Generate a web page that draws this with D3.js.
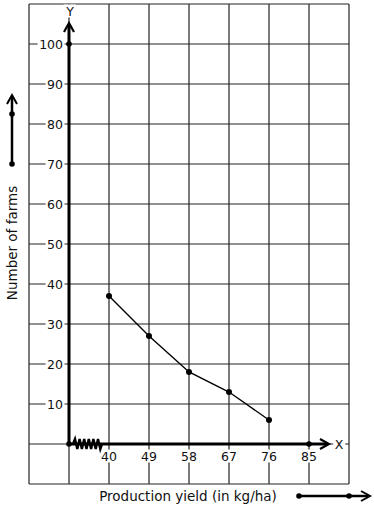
<!DOCTYPE html>
<html>
<head>
<meta charset="utf-8">
<script src="https://cdn.jsdelivr.net/npm/d3@7"></script>
<style>
  body { margin: 0; background: #fff; }
  text { font-family: "DejaVu Sans", sans-serif; font-size: 12.5px; fill: #111; }
  text.title { font-size: 13.5px; }
</style>
</head>
<body>
<svg id="chart" width="374" height="510"></svg>
<script>
var yields = [40, 49, 58, 67, 76];
var farms = [37, 27, 18, 13, 6];
var xTicks = [40, 49, 58, 67, 76, 85];
var yTicks = [10, 20, 30, 40, 50, 60, 70, 80, 90, 100];
var xGrid = [22, 31, 40, 49, 58, 67, 76, 85, 94];
var yGrid = [-10, 0, 10, 20, 30, 40, 50, 60, 70, 80, 90, 100, 110];

var svg = d3.select('#chart');

var x = d3.scaleLinear().domain([40, 85]).range([109, 309]);
var y = d3.scaleLinear().domain([0, 100]).range([444, 44]);

var x0 = x(31), y0 = y(0);
var ink = '#222';

// grid
svg.append('g').selectAll('line')
    .data(xGrid)
    .enter()
    .append('line')
    .attr('x1', function (d) { return x(d) })
    .attr('x2', function (d) { return x(d) })
    .attr('y1', y(110))
    .attr('y2', y(-10))
    .attr('stroke', ink)
    .attr('stroke-width', 1.2);

svg.append('g').selectAll('line')
    .data(yGrid)
    .enter()
    .append('line')
    .attr('x1', x(22))
    .attr('x2', x(94))
    .attr('y1', function (d) { return y(d) })
    .attr('y2', function (d) { return y(d) })
    .attr('stroke', ink)
    .attr('stroke-width', 1.2);

// labels with white boxes behind
function boxed(g) {
    g.each(function () {
        var b = this.getBBox();
        d3.select(this.parentNode).insert('rect', function () { return this.firstChild })
            .attr('x', b.x - 1.5).attr('y', b.y + 1)
            .attr('width', b.width + 3).attr('height', b.height - 2)
            .attr('fill', '#fff');
    });
}

var yl = svg.append('g').selectAll('g')
    .data(yTicks)
    .enter()
    .append('g');
yl.append('text')
    .attr('x', 63)
    .attr('y', function (d) { return y(d) })
    .attr('dy', '0.36em')
    .attr('text-anchor', 'end')
    .text(function (d) { return d });
yl.select('text').call(boxed);

var xl = svg.append('g').selectAll('g')
    .data(xTicks)
    .enter()
    .append('g');
xl.append('text')
    .attr('x', function (d) { return x(d) })
    .attr('y', y0 + 12)
    .attr('dy', '0.36em')
    .attr('text-anchor', 'middle')
    .text(function (d) { return d });
xl.select('text').call(boxed);

var axl = svg.append('g');
axl.append('text').attr('x', 339).attr('y', y0).attr('dy', '0.36em')
    .attr('text-anchor', 'middle').text('X');
axl.append('text').attr('x', x0 + 1).attr('y', 11).attr('dy', '0.36em')
    .attr('text-anchor', 'middle').text('Y');
axl.selectAll('text').call(boxed);

// axes
function arrowUp(px, py) {
    return 'M' + (px - 5) + ',' + (py + 9) + 'L' + px + ',' + py + 'L' + (px + 5) + ',' + (py + 9);
}
function arrowRight(px, py) {
    return 'M' + (px - 9) + ',' + (py - 5) + 'L' + px + ',' + py + 'L' + (px - 9) + ',' + (py + 5);
}

svg.append('line').attr('x1', x0).attr('x2', x0).attr('y1', y0).attr('y2', 24)
    .attr('stroke', '#000').attr('stroke-width', 3);
svg.append('path').attr('d', arrowUp(x0, 23)).attr('fill', 'none')
    .attr('stroke', '#000').attr('stroke-width', 2.2);

svg.append('line').attr('x1', x0).attr('x2', 327).attr('y1', y0).attr('y2', y0)
    .attr('stroke', '#000').attr('stroke-width', 3);
svg.append('path').attr('d', arrowRight(329, y0)).attr('fill', 'none')
    .attr('stroke', '#000').attr('stroke-width', 2.2);

// axis break zigzag
var zz = 'M' + (x0 + 4) + ',' + y0;
for (var i = 0; i < 12; i++) {
    zz += 'L' + (x0 + 6 + i * 2.3) + ',' + (y0 + (i % 2 ? 5 : -5));
}
zz += 'L' + (x0 + 33) + ',' + y0;
svg.append('path').attr('d', zz).attr('fill', 'none')
    .attr('stroke', '#000').attr('stroke-width', 2.4);

svg.append('g').selectAll('circle')
    .data([[x0, y0], [x0, y(100)], [x(85), y0]])
    .enter()
    .append('circle')
    .attr('cx', function (d) { return d[0] })
    .attr('cy', function (d) { return d[1] })
    .attr('r', 2.8)
    .attr('fill', '#000');

// data line
var line = d3.line()
    .x(function (d, i) { return x(yields[i]) })
    .y(function (d) { return y(d) });

svg.append('path')
    .datum(farms)
    .attr('d', line)
    .attr('fill', 'none')
    .attr('stroke', '#000')
    .attr('stroke-width', 1.4);

svg.append('g').selectAll('circle')
    .data(farms)
    .enter()
    .append('circle')
    .attr('cx', function (d, i) { return x(yields[i]) })
    .attr('cy', function (d) { return y(d) })
    .attr('r', 3)
    .attr('fill', '#000');

// titles
svg.append('text')
    .attr('class', 'title')
    .attr('transform', 'translate(17,243) rotate(-90)')
    .attr('text-anchor', 'middle')
    .text('Number of farms');

svg.append('text')
    .attr('class', 'title')
    .attr('x', 188)
    .attr('y', 496)
    .attr('dy', '0.36em')
    .attr('text-anchor', 'middle')
    .text('Production yield (in kg/ha)');

// side arrows
svg.append('line').attr('x1', 12).attr('x2', 12).attr('y1', 164).attr('y2', 97)
    .attr('stroke', '#000').attr('stroke-width', 2.5);
svg.append('path').attr('d', arrowUp(12, 95)).attr('fill', 'none')
    .attr('stroke', '#000').attr('stroke-width', 2);
svg.append('line').attr('x1', 299).attr('x2', 368).attr('y1', 496).attr('y2', 496)
    .attr('stroke', '#000').attr('stroke-width', 2.5);
svg.append('path').attr('d', arrowRight(370, 496)).attr('fill', 'none')
    .attr('stroke', '#000').attr('stroke-width', 2);

svg.append('g').selectAll('circle')
    .data([[12, 164], [12, 114], [299, 496], [349, 496]])
    .enter()
    .append('circle')
    .attr('cx', function (d) { return d[0] })
    .attr('cy', function (d) { return d[1] })
    .attr('r', 2.8)
    .attr('fill', '#000');
</script>
</body>
</html>
